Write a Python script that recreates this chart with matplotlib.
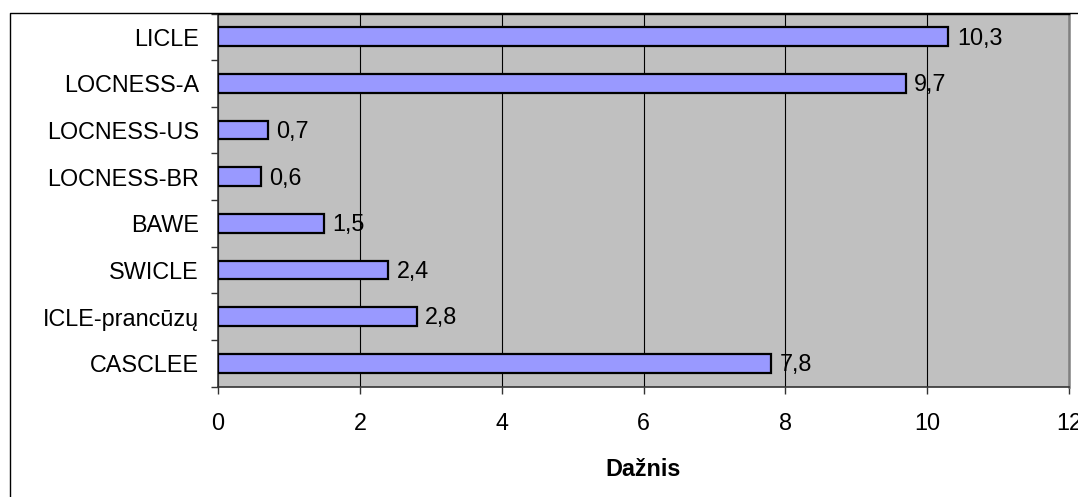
import matplotlib
matplotlib.use("Agg")
import matplotlib.pyplot as plt
from matplotlib.lines import Line2D

plt.rcParams['font.family'] = ['Liberation Sans', 'DejaVu Sans']

categories = ["LICLE", "LOCNESS-A", "LOCNESS-US", "LOCNESS-BR", "BAWE",
              "SWICLE", "ICLE-prancūzų", "CASCLEE"]
values = [10.3, 9.7, 0.7, 0.6, 1.5, 2.4, 2.8, 7.8]
xticks = [0, 2, 4, 6, 8, 10, 12]
xlabel = "Dažnis"

W, H = 1078, 497
FS = 16.8
fig = plt.figure(figsize=(W / 100, H / 100), dpi=100)
fig.patch.set_facecolor("white")

# chart-area border (left and top visible)
x0 = 10 / W
ytop = 1 - 13 / H
fig.add_artist(Line2D([x0, x0, 1.2], [-0.2, ytop, ytop], color="black",
                      lw=1.0, transform=fig.transFigure))

left, right = 218 / W, 1069 / W
bottom, top = 1 - 386.5 / H, 1 - 13.5 / H
ax = fig.add_axes([left, bottom, right - left, top - bottom])
ax.set_facecolor("#C0C0C0")

n = len(categories)
ypos = list(range(n))
ax.barh(ypos, values, height=0.4, color="#9999FF",
        edgecolor="black", linewidth=1.6, zorder=3)
ax.set_ylim(n - 0.5, -0.5)
ax.set_xlim(0, 12)

ax.set_xticks(xticks)
ax.set_xticklabels([str(t) for t in xticks], fontsize=FS)
ax.set_yticks(ypos)
ax.set_yticklabels(categories, fontsize=FS)
ax.tick_params(axis='y', length=0, pad=19 * 0.72)
# category boundary ticks
ax.set_yticks([i - 0.5 for i in range(n + 1)], minor=True)
ax.tick_params(axis='y', which='minor', length=7 * 0.72, width=1, color="#333333", direction='out')
ax.tick_params(axis='x', length=7 * 0.72, width=1, color="#333333", direction='out', pad=19 * 0.72)

ax.grid(axis='x', color="black", linewidth=0.8, zorder=1)
ax.set_axisbelow(True)

for s in ['left', 'bottom']:
    ax.spines[s].set_color("#333333")
    ax.spines[s].set_linewidth(1.2)
ax.spines['right'].set_color("#808080")
ax.spines['right'].set_linewidth(1.8)
ax.spines['top'].set_color("black")
ax.spines['top'].set_linewidth(1.0)

for y, v in zip(ypos, values):
    ax.annotate(f"{v:.1f}".replace(".", ","), xy=(v, y), xytext=(6, -1),
                textcoords="offset points", va="center", ha="left", fontsize=FS,
                zorder=4)

ax.set_xlabel(xlabel, fontsize=FS, fontweight="bold", labelpad=16)

fig.savefig("out.png", dpi=100)
